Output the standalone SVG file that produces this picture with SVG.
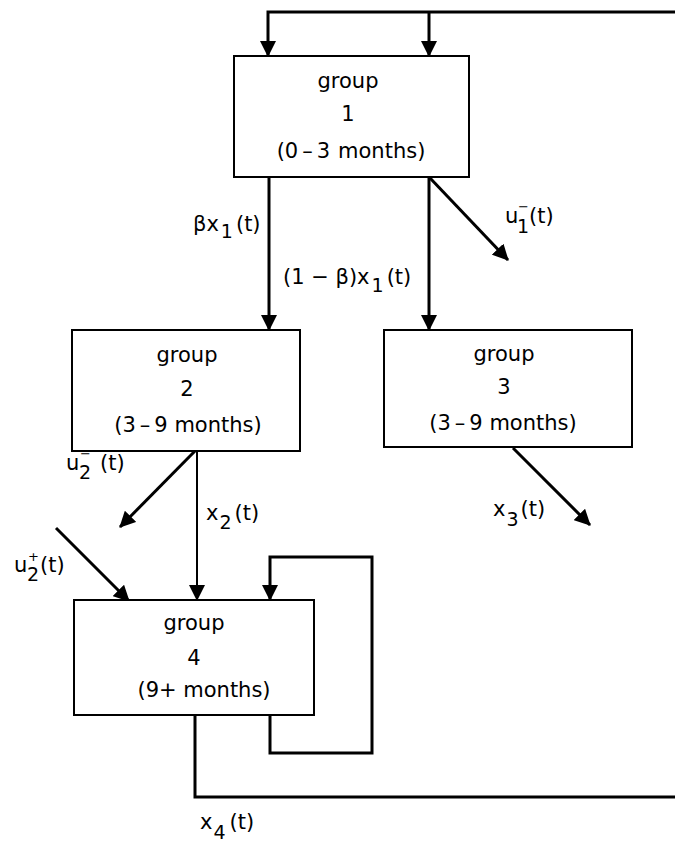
<svg xmlns="http://www.w3.org/2000/svg" width="675" height="845" viewBox="0 0 675 845">
<style>
.box{fill:#fff;stroke:#000;stroke-width:2}
.t{font-family:"DejaVu Sans",sans-serif;font-size:21px;fill:#000}
.c{text-anchor:middle}
.s{font-size:19px}
.sup{font-size:13px}
.ln{fill:none;stroke:#000;stroke-width:3;stroke-linejoin:miter}
.thin{stroke-width:2}
</style>
<defs>
<marker id="ah" viewBox="0 0 16 16" refX="15" refY="8" markerWidth="16" markerHeight="16" markerUnits="userSpaceOnUse" orient="auto"><path d="M0,0 L16,8 L0,16 z" fill="#000"/></marker>
</defs>
<rect width="675" height="845" fill="#fff"/>
<g id="connectors">
<path class="ln" d="M675,12 H268 V56" stroke-width="3.5" marker-end="url(#ah)"/>
<path class="ln" d="M429,12 V56" stroke-width="3.5" marker-end="url(#ah)"/>
<path class="ln" d="M269,177 V330" marker-end="url(#ah)"/>
<path class="ln" d="M429,177 V330" marker-end="url(#ah)"/>
<path class="ln" d="M430,178 L508,260" marker-end="url(#ah)"/>
<path class="ln" d="M195,451 L120,527" marker-end="url(#ah)"/>
<path class="ln thin" d="M197,451 V600" marker-end="url(#ah)"/>
<path class="ln" d="M513,448 L590,525" marker-end="url(#ah)"/>
<path class="ln" d="M56,528 L129,601" marker-end="url(#ah)"/>
<path class="ln" d="M270,715 V753 H372 V557 H270 V600" marker-end="url(#ah)"/>
<path class="ln" d="M195,715 V797 H675"/>
<text class="t" x="193" y="231">βx<tspan class="s" dx="2" dy="7">1</tspan><tspan dx="3" dy="-7">(t)</tspan></text>
<text class="t" x="283" y="284">(1 − β)x<tspan class="s" dx="2" dy="8">1</tspan><tspan dx="3" dy="-8">(t)</tspan></text>
<text class="t" x="505" y="223">u</text><text class="t s" x="517" y="233">1</text><text class="t sup" x="518" y="211">−</text><text class="t" x="529" y="223">(t)</text>
<text class="t" x="66" y="470">u</text><text class="t s" x="79" y="479">2</text><text class="t sup" x="80" y="458">−</text><text class="t" x="100" y="470">(t)</text>
<text class="t" x="206" y="520">x<tspan class="s" dx="1" dy="9">2</tspan><tspan dx="3" dy="-9">(t)</tspan></text>
<text class="t" x="493" y="516">x<tspan class="s" dx="1" dy="10">3</tspan><tspan dx="2" dy="-10">(t)</tspan></text>
<text class="t" x="14" y="572">u</text><text class="t s" x="27" y="581">2</text><text class="t sup" x="28" y="561">+</text><text class="t" x="40" y="572">(t)</text>
<text class="t" x="200" y="829">x<tspan class="s" dx="1" dy="10">4</tspan><tspan dx="4" dy="-10">(t)</tspan></text>
</g>
<g id="group1">
<rect class="box" x="234" y="56" width="235" height="121"/>
<text class="t c" x="348" y="88">group</text>
<text class="t c" x="348" y="121">1</text>
<text class="t c" x="351" y="158">(0<tspan dx="4">–</tspan><tspan dx="4">3</tspan><tspan dx="8">months)</tspan></text>
</g>
<g id="group2">
<rect class="box" x="72" y="330" width="228" height="121"/>
<text class="t c" x="187" y="362">group</text>
<text class="t c" x="187" y="396">2</text>
<text class="t c" x="188" y="432">(3<tspan dx="4">–</tspan><tspan dx="4">9 months)</tspan></text>
</g>
<g id="group3">
<rect class="box" x="384" y="330" width="248" height="117"/>
<text class="t c" x="504" y="361">group</text>
<text class="t c" x="504" y="394">3</text>
<text class="t c" x="503" y="430">(3<tspan dx="4">–</tspan><tspan dx="4">9 months)</tspan></text>
</g>
<g id="group4">
<rect class="box" x="74" y="600" width="240" height="115"/>
<text class="t c" x="194" y="630">group</text>
<text class="t c" x="194" y="665">4</text>
<text class="t c" x="204" y="697">(9+ months)</text>
</g>
</svg>
